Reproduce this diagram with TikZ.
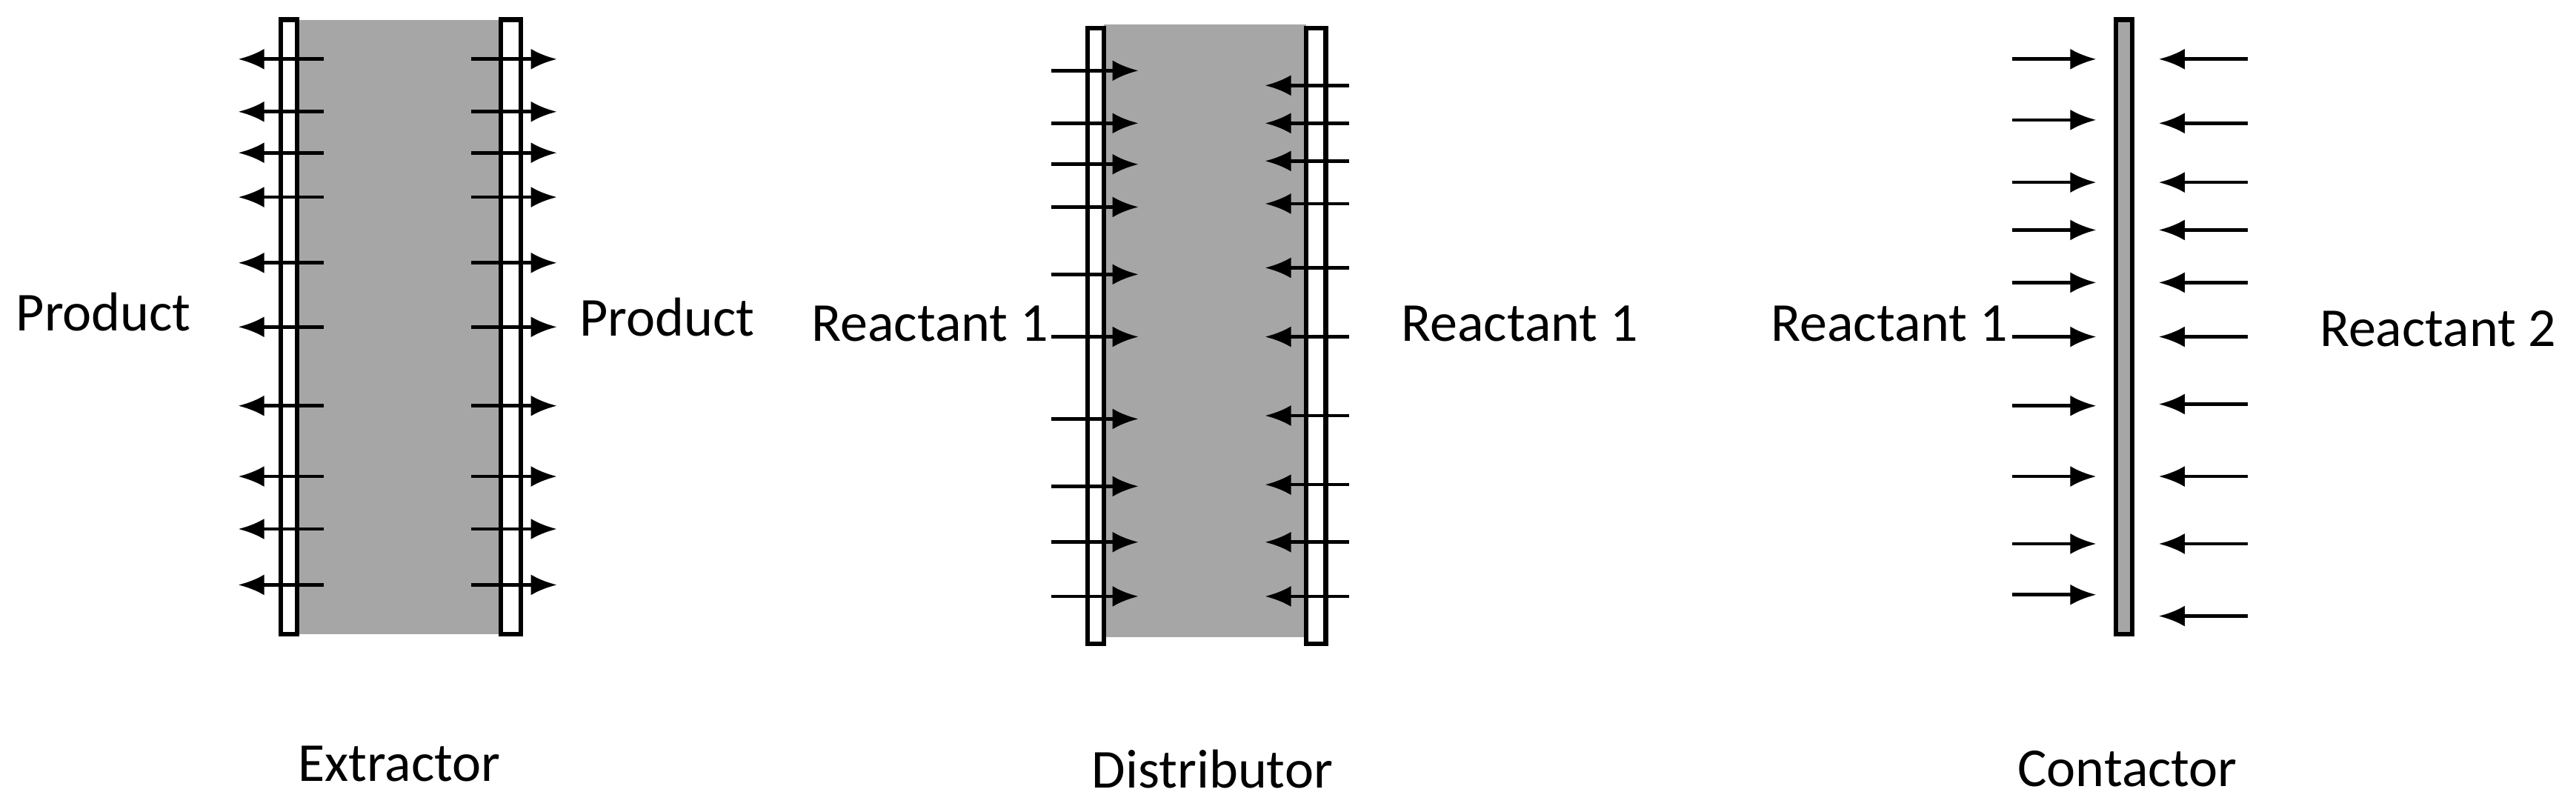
\documentclass[tikz,border=0pt]{standalone}
\usepackage{fontspec}
\setmainfont{Carlito}
\usetikzlibrary{arrows.meta}
\begin{document}
\begin{tikzpicture}[x=0.01cm,y=-0.01cm,
  memb/.style={draw=black,line width=0.8pt,fill=white},
  core/.style={fill=black!35,draw=none},
  arr/.style={-{Latex[length=4.5pt,width=3.6pt]},line width=0.6pt},
  lbl/.style={font=\fontsize{9.5}{11}\selectfont,inner sep=0pt}]
\useasboundingbox (0,0) rectangle (1568,494);
% Extractor
\fill[core] (181,12) rectangle (305,386);
\draw[memb] (171,12) rectangle (181,386);
\draw[memb] (305,12) rectangle (317,386);
\foreach \y in {36,68,93,120,160,199,247,290,322,356}{
  \coordinate (el\y) at (197,\y); \coordinate (elt\y) at (145,\y);
  \draw[arr] (el\y) -- (elt\y);
  \coordinate (er\y) at (287,\y); \coordinate (ert\y) at (339,\y);
  \draw[arr] (er\y) -- (ert\y);}
\node[lbl] (p1) at (63,190) {Product};
\node[lbl] (p2) at (406,193) {Product};
\node[lbl] (ex) at (243,465) {Extractor};
% Distributor
\fill[core] (672,15) rectangle (795,388);
\draw[memb] (662,17) rectangle (672,392);
\draw[memb] (795,17) rectangle (807,392);
\foreach \y in {43,75,100,126,167,205,255,296,330,363}{
  \coordinate (dl\y) at (640,\y); \coordinate (dlt\y) at (693,\y);
  \draw[arr] (dl\y) -- (dlt\y);}
\foreach \y in {52,75,98,124,163,205,253,295,330,363}{
  \coordinate (dr\y) at (821,\y); \coordinate (drt\y) at (770,\y);
  \draw[arr] (dr\y) -- (drt\y);}
\node[lbl] (r1) at (566,197) {Reactant 1};
\node[lbl] (r2) at (925,197) {Reactant 1};
\node[lbl] (di) at (738,468) {Distributor};
% Contactor
\draw[line width=0.8pt,fill=black!35] (1288,12) rectangle (1298,386);
\foreach \y in {36,73,111,140,172,205,247,290,331,362}{
  \coordinate (cl\y) at (1225,\y); \coordinate (clt\y) at (1276,\y);
  \draw[arr] (cl\y) -- (clt\y);}
\foreach \y in {36,75,111,140,172,205,246,290,331,375}{
  \coordinate (cr\y) at (1368,\y); \coordinate (crt\y) at (1314,\y);
  \draw[arr] (cr\y) -- (crt\y);}
\node[lbl] (r3) at (1150,197) {Reactant 1};
\node[lbl] (r4) at (1484,200) {Reactant 2};
\node[lbl] (co) at (1295,468) {Contactor};
\end{tikzpicture}
\end{document}
